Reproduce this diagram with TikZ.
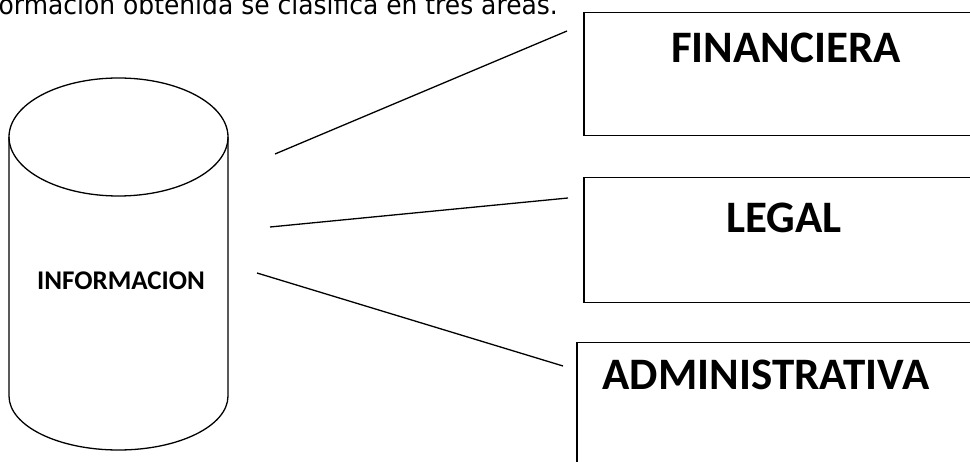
\documentclass[tikz,border=0pt]{standalone}
\usepackage{fontspec}
\newfontfamily\boxfont{Carlito}
\newfontfamily\bodyfont{DejaVu Sans}
\begin{document}
\begin{tikzpicture}[x=1pt,y=1pt,
  areabox/.style={draw=black,line width=1.5pt,rectangle,inner sep=0pt,anchor=north west},
  arealabel/.style={font=\boxfont\bfseries\fontsize{45}{54}\selectfont,anchor=base,inner sep=0pt},
  link/.style={draw=black,line width=1.3pt},
  drum/.style={draw=black,line width=1.3pt}]
\useasboundingbox (0,0) rectangle (970,461);
\clip (0,0) rectangle (970,461);
\fill[white] (0,0) rectangle (970,461);

% sentence running along the top edge
\node[font=\bodyfont\fontsize{27}{32}\selectfont,anchor=base east,inner sep=0pt,xscale=0.925] (intro) at (558,446)
  {ormación obtenida se clasifica en tres áreas.};

% database cylinder
\draw[drum] (118.5,324) ellipse [x radius=109.5, y radius=59];
\draw[drum] (9,324) -- (9,65) arc[start angle=180,end angle=360,x radius=109.5,y radius=54] -- (228,324);
\node[font=\boxfont\bfseries\fontsize{27}{32}\selectfont,anchor=base,inner sep=0pt] (info) at (121,171) {INFORMACION};

% the three areas
\node[areabox,minimum width=407pt,minimum height=123pt] (fin) at (583,449) {};
\node[arealabel] (finlbl) at (786,398) {FINANCIERA};
\node[areabox,minimum width=407pt,minimum height=125pt] (leg) at (583,284) {};
\node[arealabel] (leglbl) at (784,228) {LEGAL};
\node[areabox,minimum width=414pt,minimum height=145pt] (adm) at (576,119) {};
\node[arealabel] (admlbl) at (766,71) {ADMINISTRATIVA};

% connector end points
\coordinate (s1) at (275,307);
\coordinate (e1) at (567,430);
\coordinate (s2) at (270,234);
\coordinate (e2) at (568,263);
\coordinate (s3) at (257,188);
\coordinate (e3) at (563,95);
\draw[link] (s1) -- (e1);
\draw[link] (s2) -- (e2);
\draw[link] (s3) -- (e3);
\end{tikzpicture}
\end{document}
